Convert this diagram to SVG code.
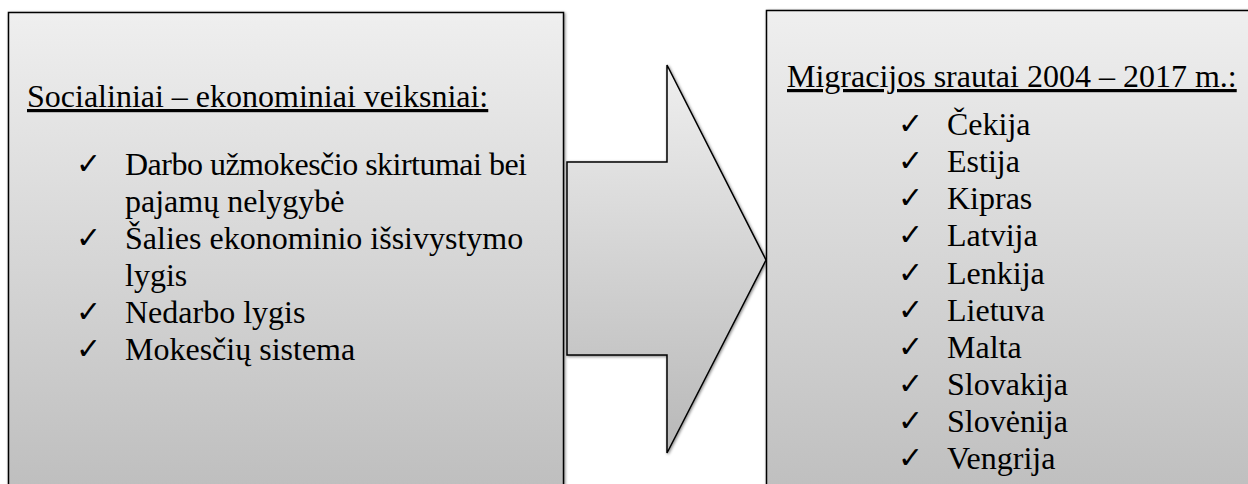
<svg xmlns="http://www.w3.org/2000/svg" width="1248" height="484" viewBox="0 0 1248 484">
  <defs>
    <linearGradient id="g" x1="0" y1="0" x2="0" y2="1">
      <stop offset="0" stop-color="#efefef"/>
      <stop offset="1" stop-color="#bdbdbd"/>
    </linearGradient>
    <linearGradient id="ga" x1="0" y1="0" x2="0" y2="1">
      <stop offset="0" stop-color="#efefef"/>
      <stop offset="1" stop-color="#b8b8b8"/>
    </linearGradient>
    <filter id="sh" x="-5%" y="-5%" width="110%" height="110%">
      <feGaussianBlur in="SourceAlpha" stdDeviation="1.5"/>
      <feOffset dx="1" dy="1" result="b"/>
      <feComponentTransfer><feFuncA type="linear" slope="0.5"/></feComponentTransfer>
      <feMerge><feMergeNode/><feMergeNode in="SourceGraphic"/></feMerge>
    </filter>
  </defs>
  <style>
    .box { fill: url(#g); stroke: #000; stroke-width: 1.5; filter: url(#sh); }
    text { font-family: 'Liberation Serif', 'DejaVu Serif', serif; font-size: 32px; fill: #000; }
    .u { text-decoration: underline; }
    text.ck { font-family: 'DejaVu Sans', sans-serif; font-size: 30px; }
  </style>
  <rect width="1248" height="484" fill="#fff"/>

  <g id="left-box">
    <rect class="box" x="8.5" y="12.5" width="555" height="490"/>
    <text class="u" x="27" y="107">Socialiniai – ekonominiai veiksniai:</text>
    <text class="ck" x="76" y="174">✓</text>
    <text x="125" y="175" textLength="402" lengthAdjust="spacing">Darbo užmokesčio skirtumai bei</text>
    <text x="125" y="212">pajamų nelygybė</text>
    <text class="ck" x="76" y="248">✓</text>
    <text x="125" y="249">Šalies ekonominio išsivystymo</text>
    <text x="125" y="286">lygis</text>
    <text class="ck" x="76" y="322">✓</text>
    <text x="125" y="323">Nedarbo lygis</text>
    <text class="ck" x="76" y="359">✓</text>
    <text x="125" y="360">Mokesčių sistema</text>
  </g>

  <g id="connectors">
    <polygon id="arrow" points="567,162 667,162 667,65 766,260 667,453 667,355 567,355" fill="url(#ga)" stroke="#000" stroke-width="1.5" stroke-linejoin="miter" filter="url(#sh)"/>
  </g>

  <g id="right-box">
    <rect class="box" x="766.5" y="10.5" width="500" height="500"/>
    <text class="u" x="787" y="87">Migracijos srautai 2004 – 2017 m.:</text>
    <g>
      <text class="ck" x="898" y="134">✓</text><text x="947" y="135">Čekija</text>
      <text class="ck" x="898" y="171">✓</text><text x="947" y="172">Estija</text>
      <text class="ck" x="898" y="208">✓</text><text x="947" y="209">Kipras</text>
      <text class="ck" x="898" y="245">✓</text><text x="947" y="246">Latvija</text>
      <text class="ck" x="898" y="283">✓</text><text x="947" y="284">Lenkija</text>
      <text class="ck" x="898" y="320">✓</text><text x="947" y="321">Lietuva</text>
      <text class="ck" x="898" y="357">✓</text><text x="947" y="358">Malta</text>
      <text class="ck" x="898" y="394">✓</text><text x="947" y="395">Slovakija</text>
      <text class="ck" x="898" y="431">✓</text><text x="947" y="432">Slovėnija</text>
      <text class="ck" x="898" y="468">✓</text><text x="947" y="469">Vengrija</text>
    </g>
  </g>
</svg>
